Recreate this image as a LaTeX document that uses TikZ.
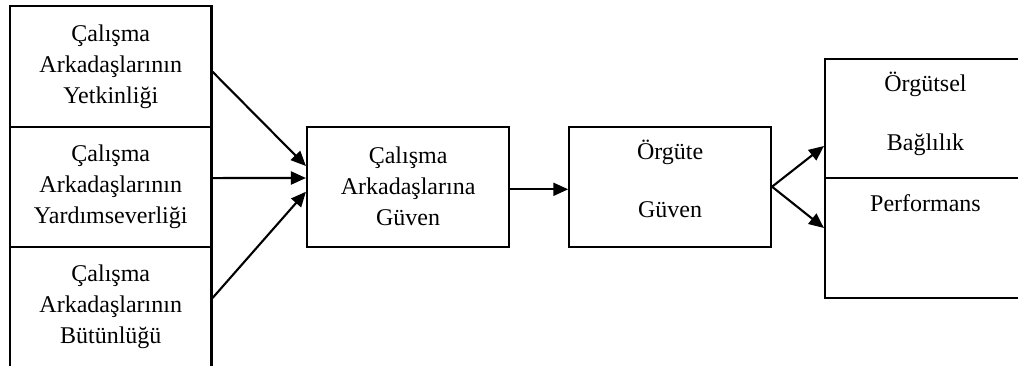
\documentclass[tikz,border=0pt]{standalone}
\usepackage{fontspec}
\setmainfont{Liberation Serif}
\usetikzlibrary{arrows.meta}
\begin{document}
\begin{tikzpicture}[x=1pt,y=-1pt,
  box/.style={draw,line width=2.1pt,inner sep=0pt,align=center,font=\fontsize{24}{31}\selectfont},
  txt/.style={inner sep=0pt,anchor=base,font=\fontsize{24}{31}\selectfont},
  arr/.style={line width=2.1pt,-{Triangle[length=15pt,width=13pt]}}]
\useasboundingbox (0,0) rectangle (1018,365);
\clip (0,0) rectangle (1018,365);
% left column
\node[box,minimum width=201.5pt,minimum height=120.7pt] (l1) at (110.75,66.35) {Çalışma\\Arkadaşlarının\\Yetkinliği};
\node[box,minimum width=201.5pt,minimum height=120.3pt] (l2) at (110.75,186.85) {Çalışma\\Arkadaşlarının\\Yardımseverliği};
\node[box,minimum width=201.5pt,minimum height=120pt] (l3) at (110.75,307) {Çalışma\\Arkadaşlarının\\Bütünlüğü};
% middle
\node[box,minimum width=202.3pt,minimum height=120pt] (c) at (408.15,186.7) {Çalışma\\Arkadaşlarına\\Güven};
\node[box,minimum width=201.7pt,minimum height=120pt] (o) at (670.15,186.7) {};
\node[txt] (o1) at (670.15,159) {Örgüte};
\node[txt] (o2) at (670.15,217) {Güven};
% right
\node[box,minimum width=201pt,minimum height=119pt] (r1) at (925.5,118.5) {};
\node[box,minimum width=201pt,minimum height=120pt] (r2) at (925.5,238) {};
\node[txt] (r1a) at (925.5,91) {Örgütsel};
\node[txt] (r1b) at (925.5,150) {Bağlılık};
\node[txt] (r2a) at (925.5,211) {Performans};
% arrows
\draw[arr] ([yshift=-5.4pt]l1.east) -- ([yshift=20.7pt]c.west);
\draw[arr] ([yshift=8.8pt]l2.east) -- ([yshift=8.7pt]c.west);
\draw[arr] ([yshift=9pt]l3.east) -- ([yshift=-5pt]c.west);
\draw[arr] ([yshift=-2.6pt]c.east) -- ([yshift=-2.6pt]o.west);
\draw[arr] (o.east) -- ([yshift=-27.5pt]r1.west);
\draw[arr] (o.east) -- ([yshift=10pt]r2.west);
\end{tikzpicture}
\end{document}
